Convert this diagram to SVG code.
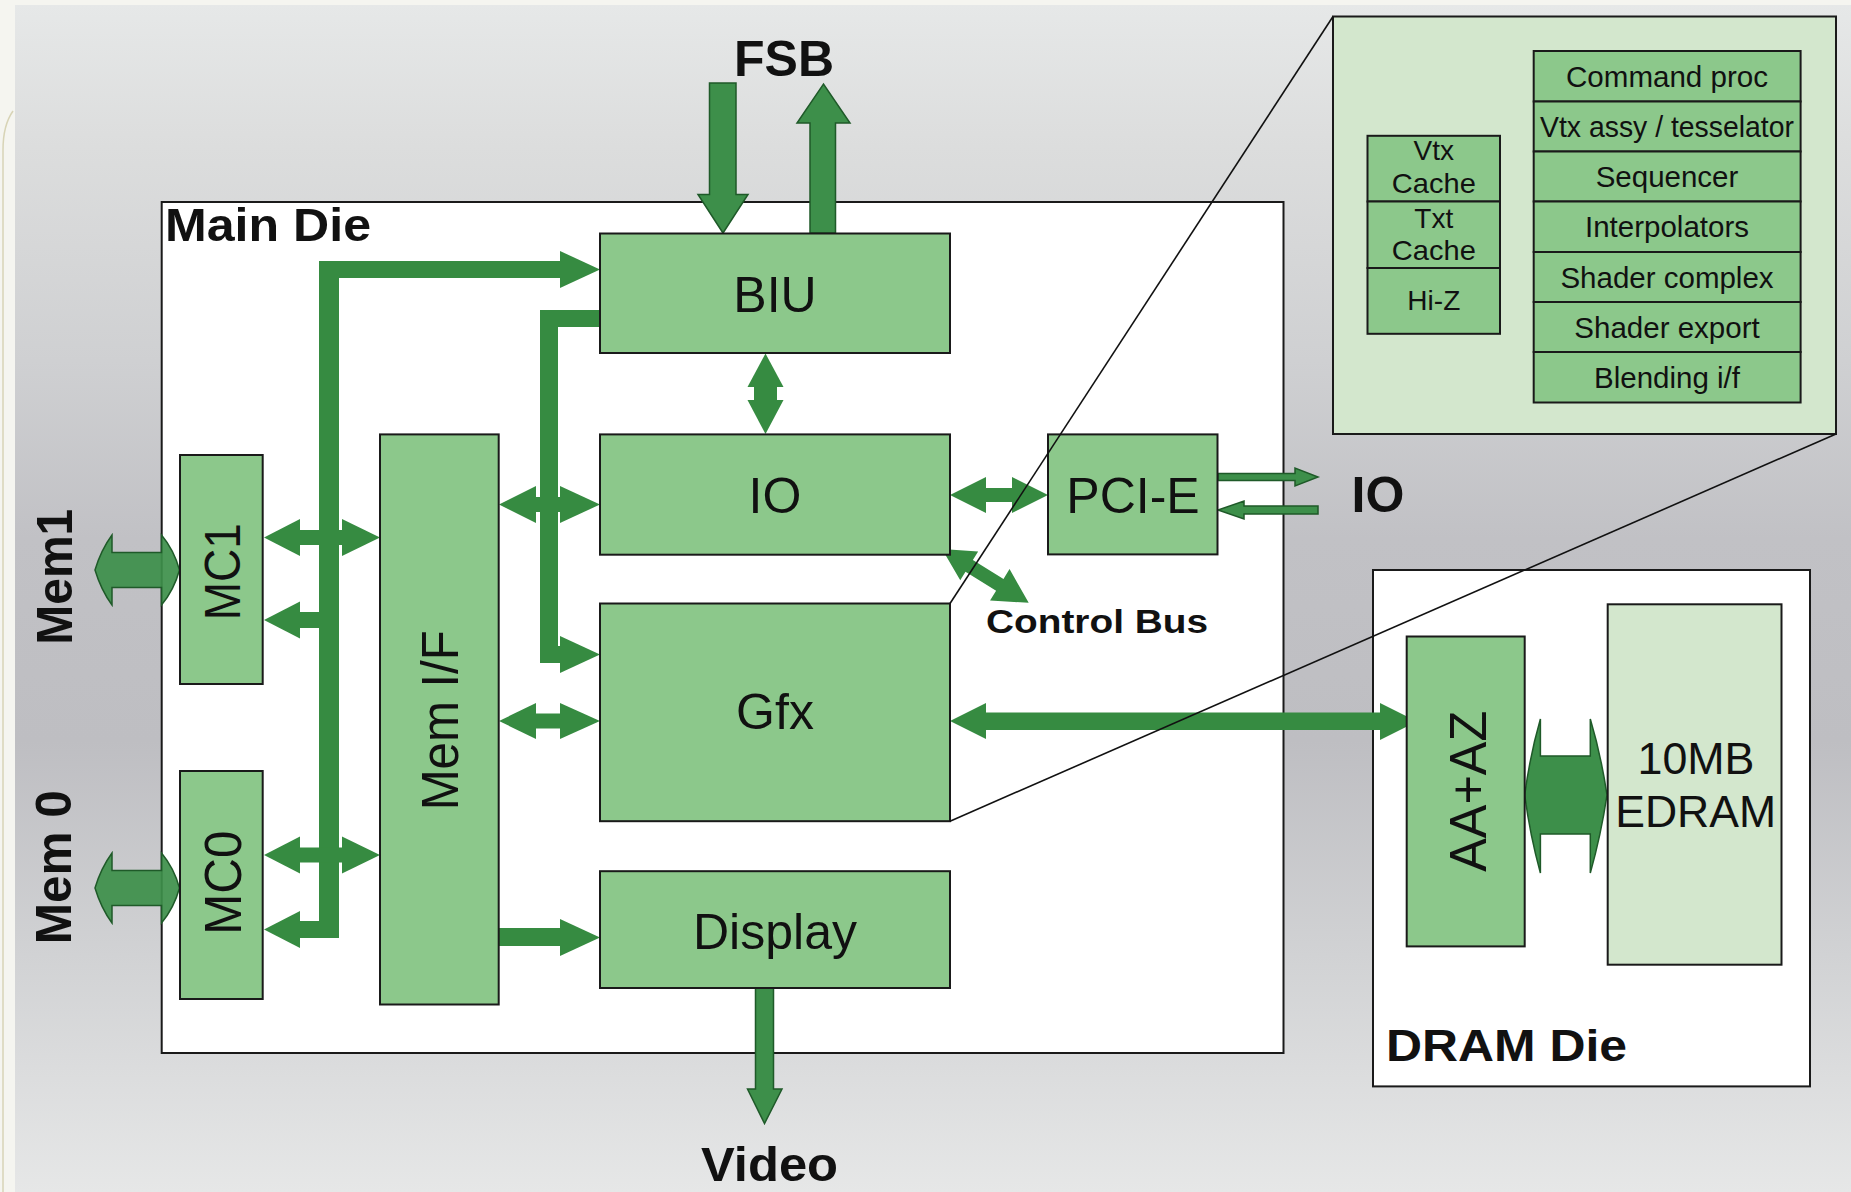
<svg xmlns="http://www.w3.org/2000/svg" width="1851" height="1192" viewBox="0 0 1851 1192">
<defs>
<linearGradient id="bg" x1="0" y1="0" x2="0" y2="1">
<stop offset="0" stop-color="#e6e8e8"/>
<stop offset="0.12" stop-color="#dcdddd"/>
<stop offset="0.3" stop-color="#cfd0d2"/>
<stop offset="0.45" stop-color="#c1c1c5"/>
<stop offset="0.62" stop-color="#bebec2"/>
<stop offset="0.8" stop-color="#d1d2d4"/>
<stop offset="1" stop-color="#e6e7e7"/>
</linearGradient>
<style>
.box{fill:#8cc88b;stroke:#1a1a1a;stroke-width:2}
.lbox{fill:#d3e7cd;stroke:#1a1a1a;stroke-width:2}
.die{fill:#ffffff;stroke:#1a1a1a;stroke-width:2}
.flow{fill:#368b41}
.oarrow{fill:#3d8f4a;stroke:#1f5a29;stroke-width:1.5}
.zoom{fill:none;stroke:#111111;stroke-width:1.6}
.t{font-family:"Liberation Sans",Arial,sans-serif;fill:#111111}
.b{font-weight:bold}
.c{text-anchor:middle}
</style>
</defs>

<g id="background">
<rect x="0" y="0" width="1851" height="1192" fill="#f5f5f0"/>
<rect x="15" y="5" width="1836" height="1187" fill="url(#bg)"/>
<path d="M13,111 Q3,125 3,150 L3,1192" fill="none" stroke="#d8d4b6" stroke-width="1.5"/>
</g>

<g id="main-die">
<rect class="die" x="161.7" y="202" width="1121.8" height="851"/>
<text class="t b" x="165" y="241" font-size="46" textLength="206" lengthAdjust="spacingAndGlyphs">Main Die</text>
</g>

<g id="dram-die">
<rect class="die" x="1373" y="570" width="437" height="516.4"/>
<text class="t b" x="1386" y="1061" font-size="45" textLength="241" lengthAdjust="spacingAndGlyphs">DRAM Die</text>
</g>

<g id="callout">
<rect class="lbox" x="1333" y="16.5" width="503" height="417.5" stroke-width="2.5"/>
<g id="gfx-caches">
<rect class="box" x="1367.5" y="135.8" width="132.5" height="65.7"/>
<rect class="box" x="1367.5" y="201.5" width="132.5" height="66.5"/>
<rect class="box" x="1367.5" y="268" width="132.5" height="65.8"/>
<text class="t c" x="1433.8" y="160" font-size="28">Vtx</text>
<text class="t c" x="1433.8" y="193.2" font-size="28" textLength="84" lengthAdjust="spacingAndGlyphs">Cache</text>
<text class="t c" x="1433.8" y="228" font-size="28">Txt</text>
<text class="t c" x="1433.8" y="259.7" font-size="28" textLength="84" lengthAdjust="spacingAndGlyphs">Cache</text>
<text class="t c" x="1433.8" y="310" font-size="28">Hi-Z</text>
</g>
<g id="gfx-pipeline">
<rect class="box" x="1533.7" y="51" width="266.9" height="50.5"/>
<rect class="box" x="1533.7" y="101.5" width="266.9" height="50"/>
<rect class="box" x="1533.7" y="151.5" width="266.9" height="50"/>
<rect class="box" x="1533.7" y="201.5" width="266.9" height="50.5"/>
<rect class="box" x="1533.7" y="252" width="266.9" height="50"/>
<rect class="box" x="1533.7" y="302" width="266.9" height="50"/>
<rect class="box" x="1533.7" y="352" width="266.9" height="50.5"/>
<text class="t c" x="1667" y="86.5" font-size="29.5" textLength="202" lengthAdjust="spacingAndGlyphs">Command proc</text>
<text class="t c" x="1667" y="137" font-size="29.5" textLength="254" lengthAdjust="spacingAndGlyphs">Vtx assy / tesselator</text>
<text class="t c" x="1667" y="187" font-size="29.5">Sequencer</text>
<text class="t c" x="1667" y="237" font-size="29.5">Interpolators</text>
<text class="t c" x="1667" y="287.5" font-size="29.5">Shader complex</text>
<text class="t c" x="1667" y="337.5" font-size="29.5">Shader export</text>
<text class="t c" x="1667" y="387.5" font-size="29.5">Blending i/f</text>
</g>
</g>

<g id="connectors">
<!-- bus A -->
<rect class="flow" x="319" y="261" width="243" height="17"/>
<polygon class="flow" points="560,251 600,269.5 560,288"/>
<rect class="flow" x="319" y="261" width="20" height="677"/>
<rect class="flow" x="298" y="921" width="41" height="17"/>
<polygon class="flow" points="300,911 264,929.5 300,948"/>
<rect class="flow" x="298" y="612" width="31" height="16"/>
<polygon class="flow" points="300,601.5 264,620 300,638.5"/>
<rect class="flow" x="298" y="530" width="46" height="15"/>
<polygon class="flow" points="300,519 264,537.5 300,556"/>
<polygon class="flow" points="342,519 380,537.5 342,556"/>
<rect class="flow" x="298" y="847.5" width="46" height="15"/>
<polygon class="flow" points="300,836.5 264,855 300,873.5"/>
<polygon class="flow" points="342,836.5 380,855 342,873.5"/>
<!-- bus B -->
<rect class="flow" x="540" y="310" width="60" height="17"/>
<rect class="flow" x="540" y="310" width="18" height="353"/>
<rect class="flow" x="540" y="646" width="22" height="17"/>
<polygon class="flow" points="560,636 600,654.5 560,673"/>
<!-- MemIF <-> IO -->
<rect class="flow" x="534" y="497" width="28" height="15"/>
<polygon class="flow" points="536,486 499,504.5 536,523"/>
<polygon class="flow" points="560,486 600,504.5 560,523"/>
<!-- MemIF <-> Gfx -->
<rect class="flow" x="534" y="713.5" width="28" height="15"/>
<polygon class="flow" points="536,703 499,721 536,739"/>
<polygon class="flow" points="560,703 600,721 560,739"/>
<!-- MemIF -> Display -->
<rect class="flow" x="499" y="928" width="63" height="18"/>
<polygon class="flow" points="560,919 600,937.5 560,956"/>
<!-- BIU <-> IO -->
<polygon class="flow" points="765.5,353.5 783.5,387 747.5,387"/>
<rect class="flow" x="754" y="386" width="23" height="15"/>
<polygon class="flow" points="747.5,400 783.5,400 765.5,434"/>
<!-- IO <-> PCI-E -->
<polygon class="flow" points="950,495 986,477 986,513"/>
<rect class="flow" x="984" y="488" width="30" height="14"/>
<polygon class="flow" points="1012,477 1048,495 1012,513"/>
<!-- Control bus -->
<polygon class="flow" transform="translate(942,549) rotate(31.8)" points="0,0 32,-17 32,-7 68,-7 68,-18.5 102,0 68,18.5 68,7 32,7 32,17"/>
<!-- Gfx <-> AA+AZ -->
<polygon class="flow" points="950,721 986,703 986,739"/>
<rect class="flow" x="984" y="712.5" width="398" height="17.5"/>
<polygon class="flow" points="1380,703 1417,721.5 1380,740"/>
<!-- outlined arrows -->
<polygon class="oarrow" points="709.5,83 736,83 736,194.5 748,194.5 723,233 698,194.5 709.5,194.5"/>
<polygon class="oarrow" points="810,233 835.5,233 835.5,123 850,123 823.5,84 797,123 810,123"/>
<polygon class="oarrow" points="755.5,988 773.5,988 773.5,1089 782,1089 764.5,1123.5 747.5,1089 755.5,1089"/>
<polygon class="oarrow" points="1218,473.5 1295,473.5 1295,468 1318,477 1295,486 1295,480.5 1218,480.5"/>
<polygon class="oarrow" points="1318,506 1244,506 1244,501 1218,510 1244,519 1244,514 1318,514"/>
<path class="oarrow" fill-opacity="0.92" d="M95,570 Q101,550 112,535 L112,552.5 L161.5,552.5 L161.5,535 Q174,550 179.5,570 Q174,590 161.5,605 L161.5,587.5 L112,587.5 L112,605 Q101,590 95,570 Z"/>
<path class="oarrow" fill-opacity="0.92" d="M95,888 Q101,868 112,853 L112,870.5 L161.5,870.5 L161.5,853 Q174,868 179.5,888 Q174,908 161.5,923 L161.5,905.5 L112,905.5 L112,923 Q101,908 95,888 Z"/>
<path class="oarrow" d="M1524.7,795 Q1530,755 1540.4,719 L1540.4,756 L1590.3,756 L1590.3,719 Q1601,755 1607,795 Q1601,835 1590.3,873 L1590.3,834 L1540.4,834 L1540.4,873 Q1530,835 1524.7,795 Z"/>
</g>

<g id="biu">
<rect class="box" x="600" y="233.5" width="350" height="119.5"/>
<text class="t c" x="775" y="311.7" font-size="50">BIU</text>
</g>
<g id="io">
<rect class="box" x="600" y="434.4" width="350" height="120.3"/>
<text class="t c" x="775" y="513.3" font-size="50">IO</text>
</g>
<g id="gfx">
<rect class="box" x="600" y="603.5" width="350" height="217.7"/>
<text class="t c" x="775" y="729.3" font-size="50">Gfx</text>
</g>
<g id="display">
<rect class="box" x="600" y="871.2" width="350" height="116.8"/>
<text class="t c" x="775" y="949" font-size="50">Display</text>
</g>
<g id="pcie">
<rect class="box" x="1048" y="434.4" width="169.5" height="120"/>
<text class="t c" x="1133" y="512.7" font-size="50">PCI-E</text>
</g>
<g id="memif">
<rect class="box" x="380" y="434.4" width="118.7" height="570.1"/>
<text class="t c" transform="translate(457.6,720.3) rotate(-90)" font-size="51" textLength="180" lengthAdjust="spacingAndGlyphs">Mem I/F</text>
</g>
<g id="mc1">
<rect class="box" x="180" y="455" width="82.7" height="229"/>
<text class="t c" transform="translate(240,571.7) rotate(-90)" font-size="50" textLength="97" lengthAdjust="spacingAndGlyphs">MC1</text>
</g>
<g id="mc0">
<rect class="box" x="180" y="771" width="82.7" height="228"/>
<text class="t c" transform="translate(241,882.7) rotate(-90)" font-size="51" textLength="104" lengthAdjust="spacingAndGlyphs">MC0</text>
</g>
<g id="aaaz">
<rect class="box" x="1406.7" y="636.5" width="118" height="309.9"/>
<text class="t c" transform="translate(1485.8,791.3) rotate(-90)" font-size="52" textLength="161" lengthAdjust="spacingAndGlyphs">AA+AZ</text>
</g>
<g id="edram">
<rect class="lbox" x="1607.7" y="604.3" width="173.8" height="360.4"/>
<text class="t c" x="1696" y="774.2" font-size="44" textLength="117" lengthAdjust="spacingAndGlyphs">10MB</text>
<text class="t c" x="1695.7" y="827" font-size="44" textLength="161" lengthAdjust="spacingAndGlyphs">EDRAM</text>
</g>

<g id="labels">
<text class="t b" x="734" y="75.8" font-size="50">FSB</text>
<text class="t b" x="701" y="1180.7" font-size="48" textLength="137" lengthAdjust="spacingAndGlyphs">Video</text>
<text class="t b" x="1351.5" y="511.6" font-size="50">IO</text>
<text class="t b" x="986" y="632.7" font-size="34" textLength="222" lengthAdjust="spacingAndGlyphs">Control Bus</text>
<text class="t b c" transform="translate(71.7,576.7) rotate(-90)" font-size="50" textLength="136" lengthAdjust="spacingAndGlyphs">Mem1</text>
<text class="t b c" transform="translate(71.4,867.3) rotate(-90)" font-size="50" textLength="154" lengthAdjust="spacingAndGlyphs">Mem 0</text>
</g>

<g id="zoom-lines">
<line class="zoom" x1="950" y1="603.5" x2="1333" y2="16.5"/>
<line class="zoom" x1="950" y1="821.2" x2="1836" y2="434"/>
</g>
</svg>
